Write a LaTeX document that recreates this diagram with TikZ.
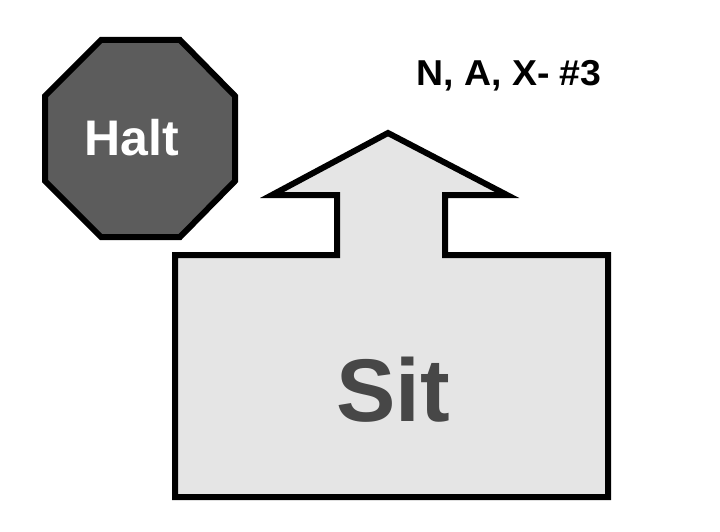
\documentclass[tikz,border=0pt]{standalone}
\usepackage{fontspec}
\setmainfont{Liberation Sans}
\begin{document}
\begin{tikzpicture}[x=1pt,y=-1pt,
  outline/.style={draw=black,line width=6pt,line join=miter},
  lbl/.style={inner sep=0pt,font=\bfseries}]
\useasboundingbox (0,0) rectangle (720,532);
\fill[white] (0,0) rectangle (720,532);
% octagon
\draw[outline,fill=black!64] (101,40) -- (180,40) -- (235,96) -- (235,181) -- (180,237) -- (101,237) -- (45,181) -- (45,96) -- cycle;
\node[lbl,text=white,font=\fontsize{50}{56}\selectfont\bfseries] (halt) at (132,138) {Halt};
% arrow box
\draw[outline,fill=black!10] (175,255) -- (337,255) -- (337,195) -- (272,195) -- (388,133) -- (507,195) -- (445,195) -- (445,255) -- (608,255) -- (608,497) -- (175,497) -- cycle;
\node[lbl,text=black!72,font=\fontsize{89}{96}\selectfont\bfseries] (sit) at (393,390) {Sit};
\node[lbl,text=black,xscale=1.04,font=\fontsize{36}{42}\selectfont\bfseries,anchor=base] (code) at (509,86) {N, A, X- \#3};
\end{tikzpicture}
\end{document}
